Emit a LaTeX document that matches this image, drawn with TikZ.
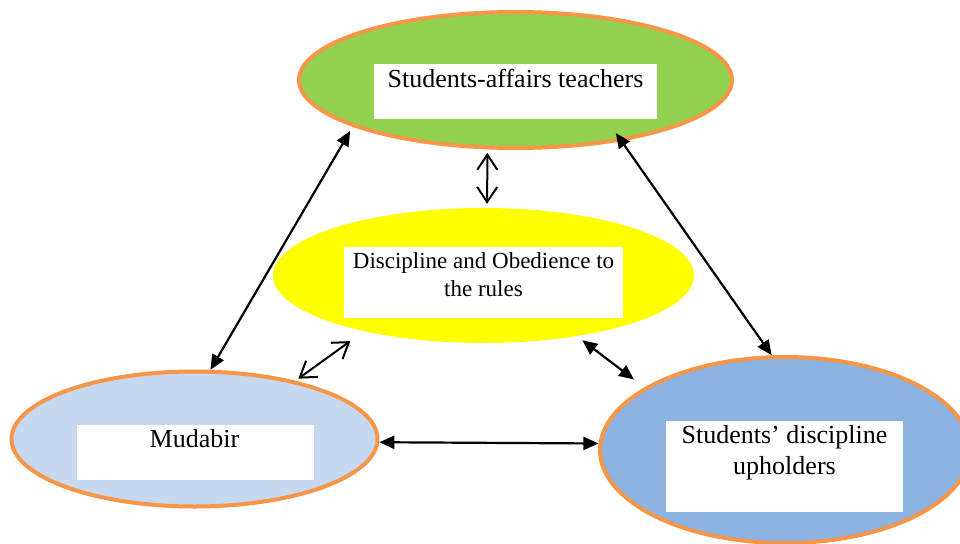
\documentclass[tikz,border=0pt]{standalone}
\usepackage{fontspec}
\setmainfont{Liberation Serif}
\usetikzlibrary{shapes.geometric,arrows.meta}
\definecolor{ogreen}{RGB}{146,208,80}
\definecolor{orng}{RGB}{247,150,70}
\definecolor{lblue}{RGB}{198,217,241}
\definecolor{mblue}{RGB}{141,179,226}
\definecolor{yel}{RGB}{255,255,0}
\begin{document}
\begin{tikzpicture}[x=1pt,y=-1pt,
  blob/.style={ellipse, draw=orng, line width=4pt, inner sep=0pt},
  wbox/.style={rectangle, fill=white, draw=none, inner sep=0pt},
  lbl/.style={inner sep=0pt, align=center, font=\fontsize{26}{31}\selectfont},
  slbl/.style={inner sep=0pt, align=center, font=\fontsize{23}{28}\selectfont},
  dbl/.style={line width=2.2pt, {Triangle[length=15pt,width=13pt]}-{Triangle[length=15pt,width=13pt]}},
  obl/.style={line width=2pt, {Straight Barb[length=15pt,width=20pt]}-{Straight Barb[length=15pt,width=20pt]}}
]
\useasboundingbox (0,0) rectangle (960,543);
\clip (0,0) rectangle (960,543);
\fill[white] (0,0) rectangle (960,543);

\node[blob, fill=ogreen, minimum width=433pt, minimum height=136pt] (teachers) at (515.5,80) {};
\node[ellipse, fill=yel, draw=none, inner sep=0pt, minimum width=421pt, minimum height=135pt] (rules) at (483.5,275.5) {};
\node[blob, fill=lblue, minimum width=366pt, minimum height=135pt] (mudabir) at (194.5,439) {};
\node[blob, fill=mblue, minimum width=370pt, minimum height=186pt] (uphold) at (785,450) {};

\node[wbox, minimum width=283pt, minimum height=55pt] (tbox) at (515.5,91.5) {};
\node[wbox, minimum width=279pt, minimum height=71pt] (rbox) at (483.5,282.5) {};
\node[wbox, minimum width=237pt, minimum height=55pt] (mbox) at (195.5,452.5) {};
\node[wbox, minimum width=237pt, minimum height=91pt] (ubox) at (784.5,466.5) {};

\node[lbl, anchor=base] (ttext) at (515.5,87) {Students-affairs teachers};
\node[slbl, anchor=base] (rtext) at (483.5,296) {Discipline and Obedience to\\the rules};
\node[lbl, anchor=base] (mtext) at (194.5,447) {Mudabir};
\node[lbl, anchor=base] (utext) at (784.5,474) {Students’ discipline\\upholders};

\draw[dbl, shorten >=5pt] (mudabir.77) -- (teachers.196);
\draw[dbl, shorten >=-10pt] (uphold.98) -- (teachers.330);
\draw[obl, shorten <=3.5pt, shorten >=4pt] (teachers.248) -- (rules.87);
\draw[obl, shorten <=3.6pt, shorten >=16.8pt] (mudabir.30) -- (rules.205);
\draw[dbl, shorten <=6.7pt, shorten >=13pt] (rules.327) -- (uphold.156);
\draw[dbl] (mudabir.-1) -- (uphold.178);
\end{tikzpicture}
\end{document}
